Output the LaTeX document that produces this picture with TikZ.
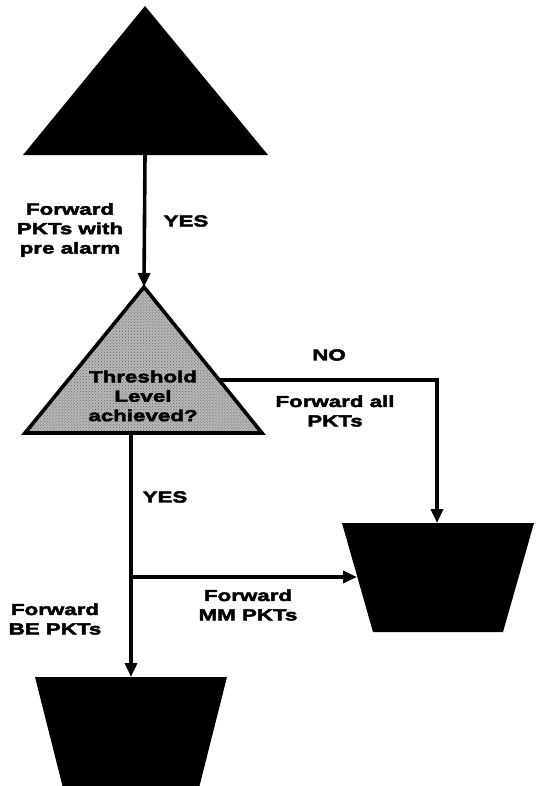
\documentclass[tikz,border=0pt]{standalone}
\usepackage{fontspec}
\newfontfamily\heavy[UprightFont={* Bold},FakeStretch=1.4,FakeBold=3]{Liberation Sans}
\usetikzlibrary{arrows.meta,patterns}

\begin{document}
\begin{tikzpicture}[x=1bp,y=-1bp,
  flow/.style={line width=3.6bp,-{Triangle[length=14bp,width=12bp]}},
  lbl/.style={font=\heavy\fontsize{16}{19.5}\selectfont,align=center,inner sep=0pt},
  block/.style={fill=black},
]
\useasboundingbox (0,0) rectangle (543,786);
\clip (0,0) rectangle (543,786);

% corner points of the shapes
\coordinate (srcApex) at (145,6);
\coordinate (srcL) at (23,155);
\coordinate (srcR) at (268,155);
\coordinate (srcOut) at (145,155);

\coordinate (decApex) at (144,287);
\coordinate (decL) at (25,433);
\coordinate (decR) at (262,433);
\coordinate (decNo) at (219,380);
\coordinate (decYes) at (131,433);

\coordinate (qA) at (342,523);
\coordinate (qB) at (534,523);
\coordinate (qC) at (503,632);
\coordinate (qD) at (373,632);
\coordinate (qIn) at (437,523);
\coordinate (qSide) at (357,577);

\coordinate (pA) at (35,677);
\coordinate (pB) at (227,677);
\coordinate (pC) at (198,792);
\coordinate (pD) at (64,792);
\coordinate (pIn) at (131,677);

% source
\fill[block] (srcApex) -- (srcR) -- (srcL) -- cycle;

% decision triangle with stippled grey fill
\fill[black!28] (decApex) -- (decR) -- (decL) -- cycle;
\fill[pattern=crosshatch dots,pattern color=black!60] (decApex) -- (decR) -- (decL) -- cycle;
\draw[line width=3.6bp,line join=miter] (decApex) -- (decR) -- (decL) -- cycle;
\node[lbl] (dec) at (143,396) {\fontsize{16}{22}\selectfont Threshold\\Level\\achieved?};

% queues
\fill[block] (qA) -- (qB) -- (qC) -- (qD) -- cycle;
\fill[block] (pA) -- (pB) -- (pC) -- (pD) -- cycle;

% connectors
\draw[flow] (srcOut) -- (decApex);
\draw[flow] (decNo) -- (qIn |- decNo) -- (qIn);
\draw[flow] (decYes) -- (pIn);
\coordinate (split) at (decYes |- qSide);
\draw[flow] (split) -- (qSide);

% labels
\node[lbl] (l1) at (70,230) {Forward\\PKTs with\\pre alarm};
\node[lbl] (y1) at (186,221) {YES};
\node[lbl] (no) at (329,355) {NO};
\node[lbl] (l2) at (335,411) {Forward all\\PKTs};
\node[lbl] (y2) at (165,497) {YES};
\node[lbl] (l3) at (248,605) {Forward\\MM PKTs};
\node[lbl] (l4) at (55,619) {Forward\\BE PKTs};
\end{tikzpicture}
\end{document}
